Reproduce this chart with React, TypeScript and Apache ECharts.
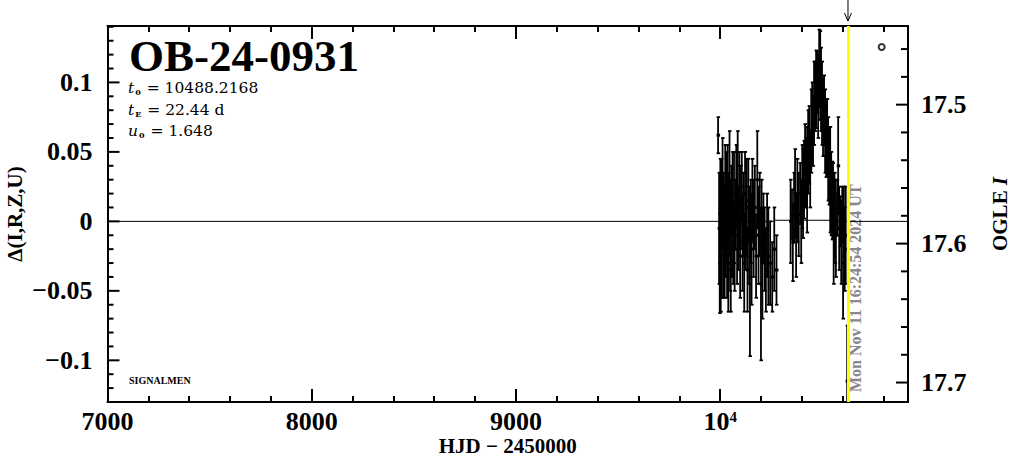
import React, { useEffect, useRef } from 'react';
import * as echarts from 'echarts';

// ---- axis ranges / reference values ----
const X_MIN = 7000;
const X_MAX = 10920;
const Y_MIN = -0.13;
const Y_MAX = 0.1406;
const REF_MAG = 17.584; // OGLE I magnitude corresponding to delta = 0
const NOW_HJD = 10626.18;
const NOW_LABEL = 'Mon Nov 11 16:24:54 2024 UT';
const EVENT_NAME = 'OB-24-0931';
const PARAM_SYMBOLS = ['t', 't', 'u'];
const PARAM_SUBS = ['0', 'E', '0'];
const PARAM_VALUES = ['10488.2168', '22.44 d', '1.648'];
const FOOTER_LABEL = 'SIGNALMEN';

// ---- tick labels / tick positions ----
const xMajorTicks = [7000, 8000, 9000, 10000];
const X_MAJOR_STEP = 1000;
const X_MINOR_STEP = 200;
const yLeftMajor = [-0.1, -0.05, 0, 0.05, 0.1];
const yLeftMinor = [-0.12, -0.11, -0.09, -0.08, -0.07, -0.06, -0.04, -0.03, -0.02, -0.01, 0.01, 0.02, 0.03, 0.04, 0.06, 0.07, 0.08, 0.09, 0.11, 0.12, 0.13, 0.14];
const yRightMajor = [17.5, 17.6, 17.7];
const yRightMinor = [17.46, 17.48, 17.52, 17.54, 17.56, 17.58, 17.62, 17.64, 17.66, 17.68];

// ---- model curve ----
const modelHJD = [7000, 10260, 10270, 10600, 10615, 10920];
const modelDelta = [0, 0, 0.0008, 0.0008, 0, 0];

// ---- observations: HJD-2450000, delta mag, error ----
const obsHJD = [
  9990, 9995, 9998, 10001, 10003, 10006, 10008, 10012, 10015, 10018, 10022, 10025, 10028, 10031, 10034, 10037,
  10040, 10043, 10046, 10049, 10052, 10055, 10058, 10061, 10064, 10068, 10071, 10075, 10079, 10083, 10086, 10090,
  10094, 10098, 10102, 10106, 10110, 10114, 10118, 10122, 10126, 10130, 10134, 10138, 10142, 10146, 10150, 10154,
  10158, 10164, 10170, 10176, 10182, 10188, 10194, 10200, 10203, 10207, 10212, 10218, 10224, 10230, 10236, 10245,
  10255, 10265, 10276,
  10345, 10352, 10356, 10362, 10367, 10372, 10378, 10385, 10392, 10397, 10402, 10406, 10411, 10416, 10421, 10426, 10431,
  10436, 10441, 10446, 10451, 10455, 10460, 10465, 10470, 10475, 10480, 10485, 10490, 10494, 10499, 10504, 10509,
  10514, 10519, 10524, 10529, 10534, 10539, 10544, 10549, 10553, 10556, 10560, 10563, 10567, 10573, 10578, 10583,
  10588, 10593, 10598, 10602, 10606, 10610, 10615, 10622,
];
const obsDelta = [
  0.062, -0.005, -0.03, 0.01, -0.025, 0.015, -0.01, 0.02, -0.02, 0.005, -0.015, 0.025, -0.005, 0.01, -0.025, 0.02,
  -0.03, 0.005, 0.03, -0.01, -0.035, 0.015, -0.005, 0.02, -0.015, 0.01, -0.02, 0.005, 0.025, -0.01, 0.04, -0.005,
  0.015, -0.025, 0.01, 0.025, -0.015, 0.005, -0.03, 0.02, -0.005, 0.01, -0.035, 0.015, -0.01, -0.04, 0.0, -0.02,
  0.015, -0.005, 0.01, -0.025, 0.03, -0.01, 0.005, -0.045, 0.0, -0.03, -0.005, -0.02, -0.035, -0.01, -0.025, -0.03,
  -0.04, -0.02, -0.035,
  0.0, 0.005, -0.015, 0.01, 0.02, -0.01, 0.015, 0.005, 0.02, 0.0, 0.025, 0.02, 0.03, 0.04, 0.035, 0.03, 0.05,
  0.055, 0.038, 0.065, 0.07, 0.065, 0.085, 0.09, 0.095, 0.1, 0.09, 0.11, 0.105, 0.095, 0.085, 0.075, 0.08,
  0.065, 0.06, 0.06, 0.045, 0.04, 0.03, 0.02, 0.015, 0.017, -0.01, 0.005, 0.0, -0.01, 0.01, 0.04, -0.005,
  0.0, -0.015, 0.005, -0.03, 0.0, -0.02, -0.01, -0.115,
];
const obsErr = [
  0.013, 0.04, 0.036, 0.035, 0.04, 0.03, 0.045, 0.04, 0.035, 0.03, 0.04, 0.03, 0.035, 0.04, 0.03, 0.035,
  0.035, 0.03, 0.035, 0.04, 0.03, 0.025, 0.035, 0.03, 0.03, 0.04, 0.03, 0.025, 0.03, 0.035, 0.025, 0.03,
  0.035, 0.03, 0.03, 0.025, 0.035, 0.03, 0.035, 0.03, 0.03, 0.035, 0.03, 0.03, 0.035, 0.057, 0.03, 0.04,
  0.03, 0.035, 0.03, 0.03, 0.035, 0.035, 0.03, 0.055, 0.03, 0.04, 0.025, 0.03, 0.03, 0.03, 0.035, 0.03,
  0.025, 0.03, 0.025,
  0.03, 0.018, 0.028, 0.025, 0.032, 0.03, 0.03, 0.03, 0.022, 0.03, 0.03, 0.032, 0.028, 0.03, 0.025, 0.038, 0.03,
  0.028, 0.028, 0.03, 0.03, 0.025, 0.03, 0.025, 0.028, 0.022, 0.03, 0.028, 0.032, 0.03, 0.03, 0.028, 0.025,
  0.03, 0.028, 0.028, 0.03, 0.028, 0.038, 0.03, 0.028, 0.025, 0.035, 0.03, 0.03, 0.03, 0.02, 0.035, 0.03,
  0.018, 0.03, 0.02, 0.04, 0.025, 0.03, 0.035, 0.04,
];

// ---- OGLE point marker ----
const ogleHJD = [10791];
const ogleMag = [17.4585];

const FONT = '"Liberation Serif", "DejaVu Serif", serif';
const PFONT = '"DejaVu Serif", serif';
const TICK_STYLE = { color: '#000', width: 2 };

// layout of the plot frame
const W = 1011;
const G_LEFT = 107.5;
const G_RIGHT = 103;
const PLOT_W = W - G_LEFT - G_RIGHT;
// convert a tick length in pixels to HJD units along the x axis
const pxToHJD = (px: number) => (px * (X_MAX - X_MIN)) / PLOT_W;

function hiddenBase(pos: string, min: number, max: number, extra: any = {}) {
  return {
    type: 'value',
    position: pos,
    min,
    max,
    offset: 0,
    axisLine: { show: false, onZero: false },
    axisLabel: { show: false },
    splitLine: { show: false },
    ...extra,
  };
}

// each y tick is a short two-point line series drawn through the axis scales
function yTickLines(values: number[], yAxisIndex: number, lenPx: number, side: 'left' | 'right') {
  const len = pxToHJD(lenPx);
  return values.map((v) => ({
    type: 'line', xAxisIndex: 0, yAxisIndex, z: 6, silent: false,
    data: side === 'left' ? [[X_MIN, v], [X_MIN + len, v]] : [[X_MAX - len, v], [X_MAX, v]],
    showSymbol: false, symbol: 'none',
    lineStyle: { color: '#000', width: 2 },
    clip: false,
  }));
}

export default function App() {
  const ref = useRef<HTMLDivElement>(null);
  useEffect(() => {
    if (!ref.current) return;
    const chart = echarts.init(ref.current, null, { renderer: 'svg' });
    const frameLine = { show: true, onZero: false, lineStyle: { color: '#000', width: 2 } };
    const labelStyle = { color: '#000', fontFamily: FONT, fontWeight: 'bold', fontSize: 26 };
    const nameStyle = { color: '#000', fontFamily: FONT, fontWeight: 'bold', fontSize: 21 };
    const magMin = REF_MAG - Y_MAX;
    const magMax = REF_MAG - Y_MIN;

    const obsData = obsHJD.map((x, i) => [x, obsDelta[i], obsErr[i]]);

    const option: any = {
      animation: false,
      backgroundColor: '#fff',
      grid: { left: G_LEFT, top: 26, right: G_RIGHT, bottom: 57, containLabel: false, outerBoundsMode: 'none' },
      xAxis: [
        {
          type: 'value', position: 'bottom', min: X_MIN, max: X_MAX, interval: X_MAJOR_STEP, offset: 0,
          axisLine: frameLine, splitLine: { show: false },
          axisTick: { show: true, inside: true, length: 13, lineStyle: TICK_STYLE },
          axisLabel: {
            margin: 7, ...labelStyle, lineHeight: 24, showMaxLabel: false,
            formatter: (v: number) => (xMajorTicks.indexOf(v) < 0 ? '' : v === 10000 ? '{m|10}{s|4}' : String(v)),
            rich: {
              m: { ...labelStyle, lineHeight: 24 },
              s: { color: '#000', fontFamily: FONT, fontWeight: 'bold', fontSize: 15, verticalAlign: 'top' },
            },
          },
          name: 'HJD − 2450000', nameLocation: 'middle', nameGap: 33, nameMoveOverlap: false, nameTextStyle: nameStyle,
        },
        { ...hiddenBase('bottom', X_MIN, X_MAX), interval: X_MINOR_STEP, axisTick: { show: true, inside: true, length: 6, lineStyle: TICK_STYLE } },
        {
          ...hiddenBase('top', X_MIN, X_MAX), interval: X_MAJOR_STEP, axisLine: frameLine,
          axisTick: { show: true, inside: true, length: 13, lineStyle: TICK_STYLE },
        },
        { ...hiddenBase('top', X_MIN, X_MAX), interval: X_MINOR_STEP, axisTick: { show: true, inside: true, length: 6, lineStyle: TICK_STYLE } },
      ],
      yAxis: [
        {
          type: 'value', position: 'left', min: Y_MIN, max: Y_MAX, offset: 0,
          axisLine: frameLine, splitLine: { show: false }, axisTick: { show: false },
          axisLabel: {
            customValues: yLeftMajor, margin: 15, ...labelStyle,
            formatter: (v: number) => (v < 0 ? '−' + String(Math.abs(v)) : String(v)),
          },
          name: 'Δ(I,R,Z,U)', nameLocation: 'middle', nameGap: 82, nameRotate: 90, nameMoveOverlap: false,
          nameTextStyle: nameStyle,
        },
        {
          type: 'value', position: 'right', inverse: true, min: magMin, max: magMax, offset: 0,
          axisLine: frameLine, splitLine: { show: false }, axisTick: { show: false },
          axisLabel: {
            customValues: yRightMajor, margin: 13, ...labelStyle,
            formatter: (v: number) => v.toFixed(1),
          },
          name: '{n|OGLE }{i|I}', nameLocation: 'middle', nameGap: 81, nameRotate: 90, nameMoveOverlap: false,
          nameTextStyle: {
            ...nameStyle,
            rich: { n: { ...nameStyle }, i: { ...nameStyle, fontStyle: 'italic' } },
          },
        },
      ],
      series: [
        {
          type: 'line', xAxisIndex: 0, yAxisIndex: 0, z: 2,
          data: modelHJD.map((x, i) => [x, modelDelta[i]]),
          showSymbol: false, symbol: 'none',
          lineStyle: { color: '#000', width: 1 },
          markLine: {
            silent: true, symbol: ['none', 'none'], label: { show: false },
            lineStyle: { color: '#ffff00', width: 3, type: 'solid' },
            data: [{ xAxis: NOW_HJD }],
          },
        },
        {
          type: 'custom', xAxisIndex: 0, yAxisIndex: 0, z: 3,
          data: obsData,
          renderItem: (params: any, api: any) => {
            const x = api.value(0);
            const y = api.value(1);
            const e = api.value(2);
            const lo = Math.max(y - e, Y_MIN);
            const hi = Math.min(y + e, Y_MAX);
            const pLo = api.coord([x, lo]);
            const pHi = api.coord([x, hi]);
            const pC = api.coord([x, y]);
            const children: any[] = [
              { type: 'rect', shape: { x: pLo[0] - 0.9, y: pHi[1], width: 1.8, height: pLo[1] - pHi[1] }, style: { fill: '#000' } },
            ];
            if (y - e >= Y_MIN) children.push({ type: 'rect', shape: { x: pLo[0] - 1.5, y: pLo[1] - 0.9, width: 3.5, height: 1.8 }, style: { fill: '#000' } });
            if (y + e <= Y_MAX) children.push({ type: 'rect', shape: { x: pHi[0] - 1.5, y: pHi[1] - 0.9, width: 3.5, height: 1.8 }, style: { fill: '#000' } });
            if (y >= Y_MIN && y <= Y_MAX) children.push({ type: 'rect', shape: { x: pC[0] - 1.5, y: pC[1] - 1.5, width: 3.5, height: 3 }, style: { fill: '#000' } });
            return { type: 'group', children };
          },
        },
        {
          type: 'scatter', xAxisIndex: 0, yAxisIndex: 1, z: 4,
          data: ogleHJD.map((x, i) => [x, ogleMag[i]]),
          symbol: 'circle', symbolSize: 6,
          itemStyle: { color: '#fff', borderColor: '#000', borderWidth: 2 },
        },
        ...yTickLines(yLeftMajor, 0, 12, 'left'),
        ...yTickLines(yLeftMinor, 0, 6, 'left'),
        ...yTickLines(yRightMajor, 1, 12, 'right'),
        ...yTickLines(yRightMinor, 1, 7, 'right'),
      ],
      graphic: [
        {
          type: 'text', x: 129, y: 56,
          style: { text: EVENT_NAME, fill: '#000', font: `bold 45px ${FONT}`, align: 'left', verticalAlign: 'middle' },
        },
        ...PARAM_SYMBOLS.map((s, i) => ({
          type: 'text', x: 128, y: 88 + i * 21.5,
          style: {
            text: `{i|${s}}{s|${PARAM_SUBS[i]}} = ${PARAM_VALUES[i]}`,
            fill: '#000', font: `15.5px ${PFONT}`, align: 'left', verticalAlign: 'middle',
            rich: {
              i: { fontFamily: PFONT, fontSize: 15.5, fontStyle: 'italic', fill: '#000' },
              s: { fontFamily: PFONT, fontSize: 8, fontWeight: 'bold', fill: '#000', verticalAlign: 'bottom', padding: [8, 1, 0, 1] },
            },
          },
        })),
        {
          type: 'text', x: 129, y: 380,
          style: { text: FOOTER_LABEL, fill: '#000', font: `bold 10px ${FONT}`, align: 'left', verticalAlign: 'middle' },
        },
      ],
    };
    chart.setOption(option);

    const px = chart.convertToPixel({ xAxisIndex: 0 }, NOW_HJD) as number;
    const pyBottom = chart.convertToPixel({ yAxisIndex: 0 }, Y_MIN) as number;
    chart.setOption({
      graphic: [
        ...option.graphic,
        { type: 'line', shape: { x1: px, y1: 0, x2: px, y2: 21 }, style: { stroke: '#000', lineWidth: 1 } },
        { type: 'polyline', shape: { points: [[px - 3.5, 13], [px, 21], [px + 3.5, 13]] }, style: { stroke: '#000', fill: 'none', lineWidth: 1 } },
        {
          type: 'text', x: px + 8, y: pyBottom - 10, rotation: Math.PI / 2,
          style: { text: NOW_LABEL, fill: '#888', font: `bold 16px ${FONT}`, align: 'left', verticalAlign: 'middle' },
        },
      ],
    });

    return () => chart.dispose();
  }, []);
  return <div ref={ref} style={{ position: 'absolute', left: 0, top: 0, width: W, height: 459 }} />;
}
